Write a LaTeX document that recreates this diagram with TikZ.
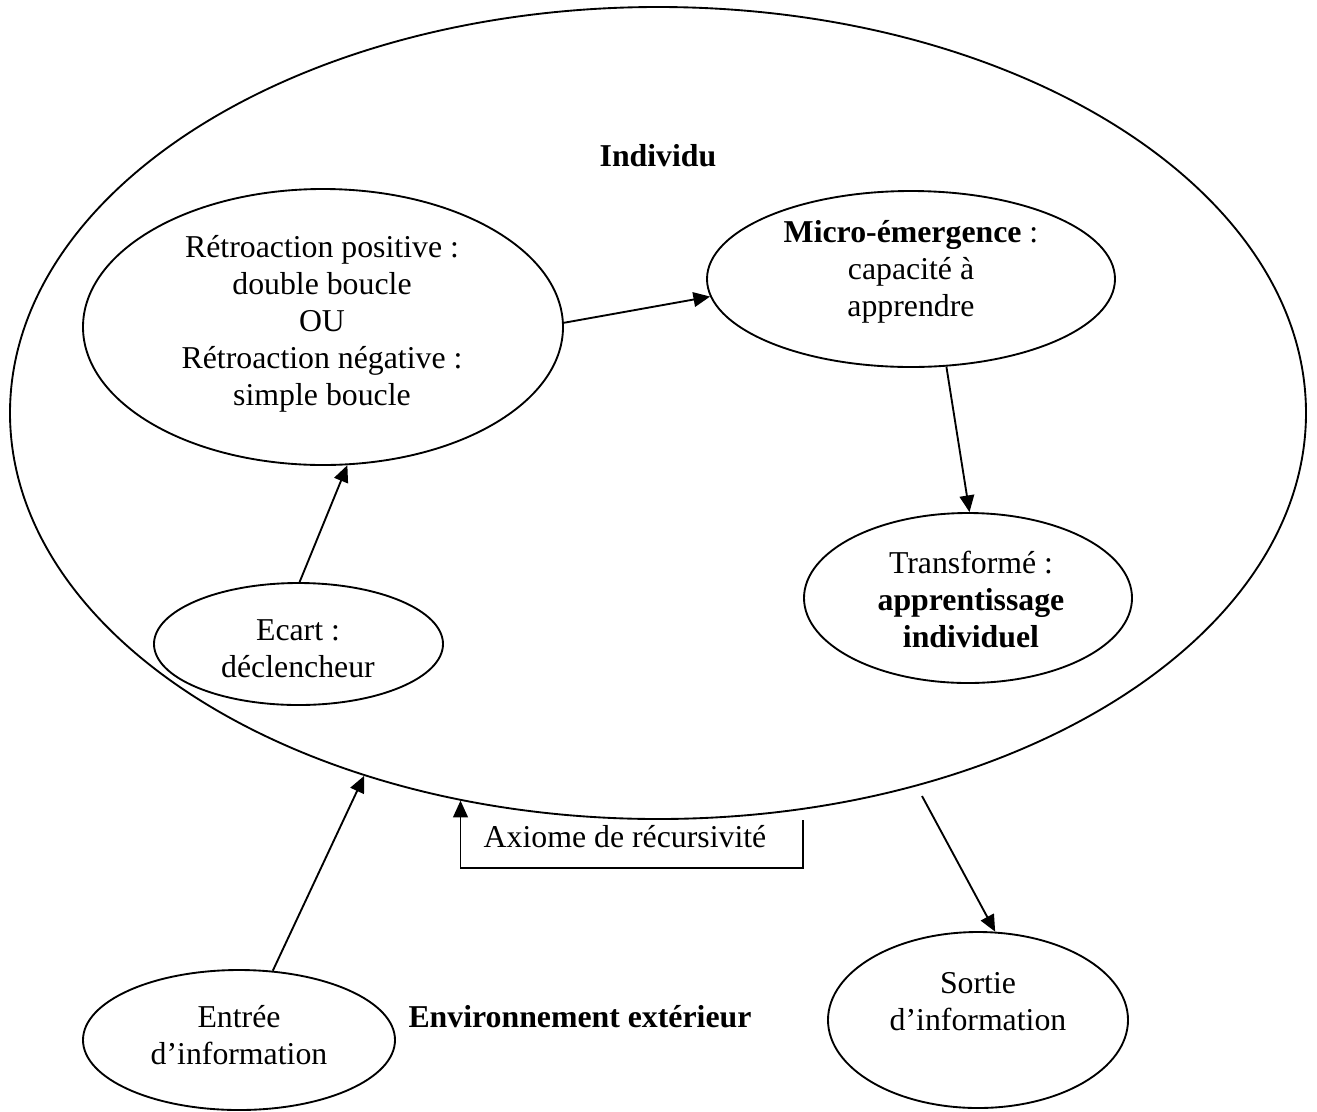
\documentclass[tikz,border=0pt]{standalone}
\usepackage{fontspec}
\setmainfont{Liberation Serif}
\usetikzlibrary{shapes.geometric,arrows.meta}
\begin{document}
\begin{tikzpicture}[x=0.75pt,y=-0.75pt,
  ell/.style={draw, ellipse, inner sep=0pt, line width=1.4pt},
  txt/.style={inner sep=0pt, align=center, font=\fontsize{23.85}{27.75}\selectfont},
  arr/.style={line width=1.4pt, -{Triangle[length=12.5pt,width=11pt]}}]
\useasboundingbox (0,0) rectangle (1317,1111);

% ellipses
\node[ell, minimum width=972pt, minimum height=609pt] (big) at (658,413) {};
\node[ell, minimum width=360pt, minimum height=207pt] (retro) at (323,327) {};
\node[ell, minimum width=306pt, minimum height=132pt] (micro) at (911,279) {};
\node[ell, minimum width=246pt, minimum height=127.5pt] (trans) at (968,598) {};
\node[ell, minimum width=216.75pt, minimum height=91.5pt] (ecart) at (298.5,644) {};
\node[ell, minimum width=234pt, minimum height=105pt] (entree) at (239,1040) {};
\node[ell, minimum width=225pt, minimum height=132pt] (sortie) at (978,1020) {};

% texts
\node[txt, anchor=base] (individu) at (658,166) {\bfseries Individu};
\node[txt] (retrot) at (322,323.5) {Rétroaction positive :\\double boucle\\OU\\Rétroaction négative :\\simple boucle};
\node[txt] (microt) at (911,272) {\textbf{Micro-émergence} :\\capacité à\\apprendre};
\node[txt] (transt) at (971,599) {Transformé :\\\textbf{apprentissage}\\\textbf{individuel}};
\node[txt] (ecartt) at (298,649) {Ecart :\\déclencheur};
\node[txt] (entreet) at (239,1035.5) {Entrée\\d’information};
\node[txt] (sortiet) at (978,1002) {Sortie\\d’information};
\node[txt, anchor=base] (env) at (580,1027) {\bfseries Environnement extérieur};
\node[txt, anchor=base] (axiome) at (625,847) {Axiome de récursivité};

% connectors
\draw[arr] (ecart.89) -- (retro.280);
\draw[arr] (retro.1) -- (micro.185);
\draw[arr] (micro.292) -- (trans.89);
\draw[arr] (entree.64) -- (big.231.65);
\coordinate (sstart) at (922,796);
\draw[arr] (sstart) -- (sortie.79);
\coordinate (axR) at (803,820);
\coordinate (axC) at (803,868);
\draw[arr] (axR) -- (axC) -| (big.243.8);
\end{tikzpicture}
\end{document}
